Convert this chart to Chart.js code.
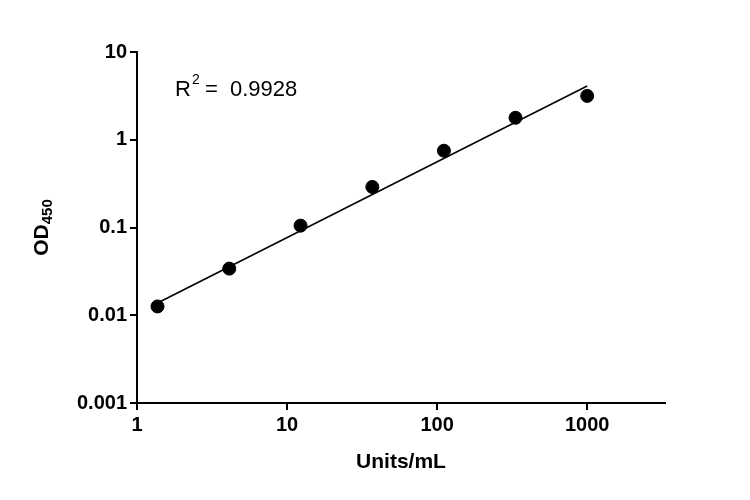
<!DOCTYPE html>
<html>
<head>
<meta charset="utf-8">
<script src="https://cdn.jsdelivr.net/npm/chart.js@4"></script>
<style>
  body { margin: 0; background: #fff; }
  #wrap { width: 750px; height: 500px; }
</style>
</head>
<body>
<div id="wrap"><canvas id="chart" width="750" height="500"></canvas></div>
<script>
"use strict"

const concentrations = [1.37, 4.12, 12.3, 37, 111, 333, 1000];
const odValues = [0.0126, 0.034, 0.105, 0.29, 0.75, 1.78, 3.16];
const fitX = [1.37, 1000];
const fitY = [0.0138, 4.1];
const xTicks = [1, 10, 100, 1000];
const yTicks = [0.001, 0.01, 0.1, 1, 10];
const rSquared = '0.9928';

const FONT = 'Liberation Sans, Arial, sans-serif';

// Draws axis titles and the R² note, which need sub/superscripts
const annotations = {
    id: 'annotations',
    afterDraw(chart) {
        const ctx = chart.ctx;
        const area = chart.chartArea;
        ctx.save();
        ctx.fillStyle = '#000';

        // x title
        ctx.font = `bold 21px ${FONT}`;
        ctx.textAlign = 'center';
        ctx.textBaseline = 'middle';
        ctx.fillText('Units/mL', (area.left + area.right) / 2 + 0, 462);

        // y title with subscript
        ctx.translate(42, (area.top + area.bottom) / 2);
        ctx.rotate(-Math.PI / 2);
        ctx.textAlign = 'left';
        ctx.font = `bold 21px ${FONT}`;
        const w1 = ctx.measureText('OD').width;
        ctx.font = `bold 15px ${FONT}`;
        const w2 = ctx.measureText('450').width;
        const start = -(w1 + w2) / 2;
        ctx.font = `bold 21px ${FONT}`;
        ctx.fillText('OD', start, 0);
        ctx.font = `bold 15px ${FONT}`;
        ctx.fillText('450', start + w1, 6);
        ctx.restore();

        // R² label
        ctx.save();
        ctx.fillStyle = '#000';
        ctx.textBaseline = 'alphabetic';
        ctx.textAlign = 'left';
        ctx.font = `22px ${FONT}`;
        ctx.fillText('R', 175, 96);
        const rw = ctx.measureText('R').width;
        ctx.font = `14px ${FONT}`;
        ctx.fillText('2', 175 + rw + 1, 84);
        ctx.font = `22px ${FONT}`;
        ctx.fillText('=  ' + rSquared, 175 + rw + 14, 96);
        ctx.restore();
    }
};

const axisCommon = {
    type: 'logarithmic',
    border: { color: '#000', width: 2 },
    grid: { drawOnChartArea: false, color: '#000', lineWidth: 2, tickLength: 7 },
    ticks: {
        color: '#000',
        font: { family: FONT, size: 20, weight: 'bold' },
        autoSkip: false,
        maxRotation: 0,
        callback: v => String(v)
    }
};

new Chart(document.getElementById('chart'), {
    type: 'scatter',
    data: {
        datasets: [
            {
                data: fitX.map((x, i) => ({ x, y: fitY[i] })),
                showLine: true,
                borderColor: '#000',
                borderWidth: 1.5,
                pointRadius: 0
            },
            {
                data: concentrations.map((x, i) => ({ x, y: odValues[i] })),
                backgroundColor: '#000',
                borderColor: '#000',
                pointRadius: 6.5
            }
        ]
    },
    options: {
        responsive: false,
        animation: false,
        layout: { padding: { top: 52, right: 85, left: 0, bottom: 0 } },
        plugins: { legend: { display: false }, tooltip: { enabled: false } },
        scales: {
            x: {
                ...axisCommon,
                min: 1,
                max: 3300,
                afterBuildTicks: s => { s.ticks = xTicks.map(v => ({ value: v })); },
                afterFit: s => { s.height = 97; }
            },
            y: {
                ...axisCommon,
                min: 0.001,
                max: 10,
                afterBuildTicks: s => { s.ticks = yTicks.map(v => ({ value: v })); },
                afterFit: s => { s.width = 137; }
            }
        }
    },
    plugins: [annotations]
});
</script>
</body>
</html>
